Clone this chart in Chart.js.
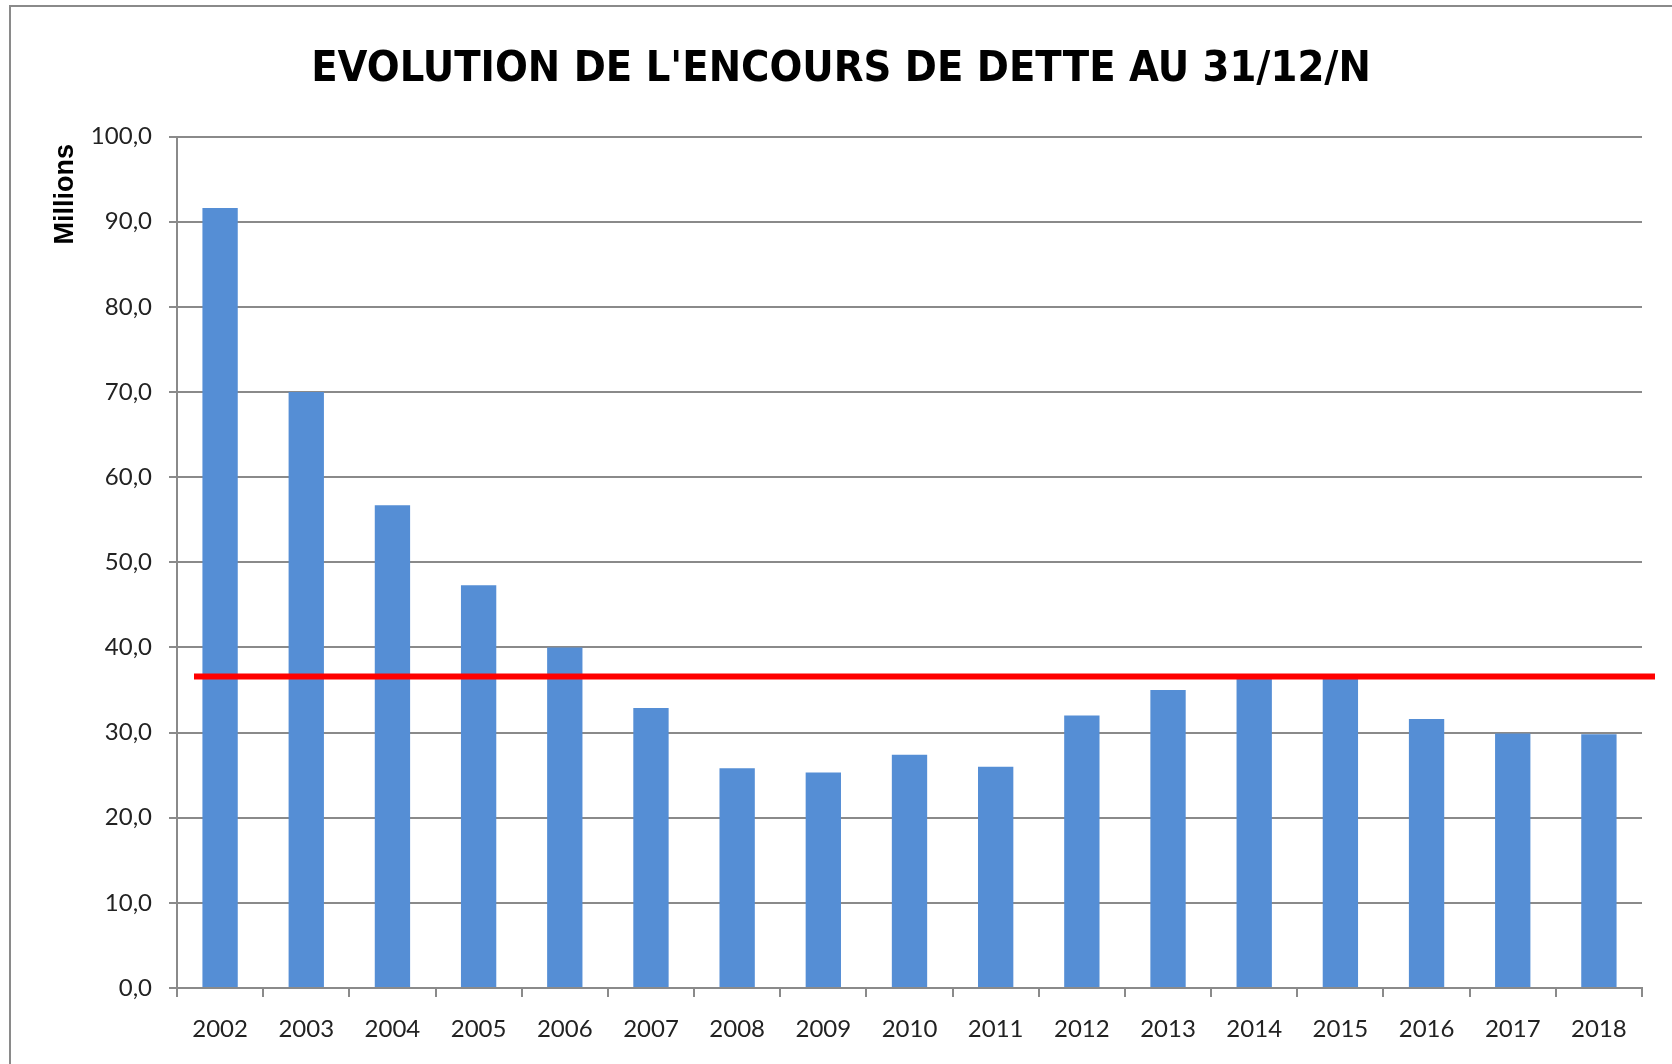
<!DOCTYPE html>
<html>
<head>
<meta charset="utf-8">
<script src="https://cdn.jsdelivr.net/npm/chart.js@4.4.1/dist/chart.umd.min.js"></script>
<style>
  html, body { margin: 0; padding: 0; background: #fff; }
  #wrap { width: 1672px; height: 1064px; }
</style>
</head>
<body>
<div id="wrap"><canvas id="myChart"></canvas></div>
<script>
// donnees du graphique
const annees = ['2002','2003','2004','2005','2006','2007','2008','2009','2010','2011','2012','2013','2014','2015','2016','2017','2018'];
const encours = [91.6, 70.0, 56.7, 47.3, 40.0, 32.9, 25.8, 25.3, 27.4, 26.0, 32.0, 35.0, 36.6, 36.6, 31.6, 29.9, 29.8];
const seuil = 36.6;
const graduations = [0, 10, 20, 30, 40, 50, 60, 70, 80, 90, 100];

const gris = '#8a8a8a';

// cadre + fond blanc
const cadre = {
  id: 'cadre',
  beforeDraw(chart) {
    const c = chart.ctx;
    c.save();
    c.fillStyle = '#fff';
    c.fillRect(0, 0, chart.width, chart.height);
    c.strokeStyle = gris;
    c.lineWidth = 2;
    c.strokeRect(10, 6, chart.width, chart.height);
    c.restore();
  }
};

// ligne rouge horizontale
const ligneSeuil = {
  id: 'ligneSeuil',
  afterDatasetsDraw(chart) {
    const c = chart.ctx;
    const y = chart.scales.y.getPixelForValue(seuil);
    const a = chart.chartArea;
    c.save();
    c.strokeStyle = '#ff0000';
    c.lineWidth = 6;
    c.beginPath();
    c.moveTo(a.left + 17, y);
    c.lineTo(a.right + 13, y);
    c.stroke();
    c.restore();
  }
};

const ctx = document.getElementById('myChart');

const myChart = new Chart(ctx, {
  type: 'bar',
  data: {
    labels: annees,
    datasets: [{
      label: 'Encours',
      data: encours,
      backgroundColor: '#558ED5',
      borderWidth: 0,
      barPercentage: 0.41,
      categoryPercentage: 1
    }]
  },
  options: {
    responsive: true,
    maintainAspectRatio: false,
    animation: false,
    devicePixelRatio: 1,
    layout: { padding: { left: 40, right: 30, top: 0, bottom: 0 } },
    plugins: {
      legend: { display: false },
      tooltip: { enabled: false },
      title: {
        display: true,
        text: "EVOLUTION DE L'ENCOURS DE DETTE AU 31/12/N",
        color: '#000',
        font: { family: '"Liberation Sans Narrow", "DejaVu Sans Condensed", sans-serif', size: 43, weight: 'bold' },
        padding: { top: 44, bottom: 41 }
      }
    },
    scales: {
      x: {
        grid: { display: true, drawOnChartArea: false, drawTicks: true, tickLength: 9, color: gris, lineWidth: 2, offset: true },
        border: { display: true, color: gris, width: 2 },
        ticks: { color: '#222', font: { family: 'Lato', size: 24 }, padding: 18, maxRotation: 0, autoSkip: false },
        afterFit(scale) { scale.height = 76; }
      },
      y: {
        min: 0,
        max: 100,
        afterBuildTicks(scale) { scale.ticks = graduations.map(v => ({ value: v })); },
        grid: { color: gris, lineWidth: 2, tickLength: 8 },
        border: { display: true, color: gris, width: 2 },
        ticks: {
          color: '#222',
          font: { family: 'Lato', size: 24 },
          padding: 17,
          callback: v => v.toFixed(1).replace('.', ',')
        },
        title: {
          display: true,
          text: 'Millions ',
          align: 'end',
          color: '#000',
          font: { family: '"Liberation Sans", Arial, sans-serif', size: 27, weight: 'bold' },
          padding: { top: 9, bottom: 0 }
        },
        afterFit(scale) { scale.width = 137; }
      }
    }
  },
  plugins: [cadre, ligneSeuil]
});
</script>
</body>
</html>
